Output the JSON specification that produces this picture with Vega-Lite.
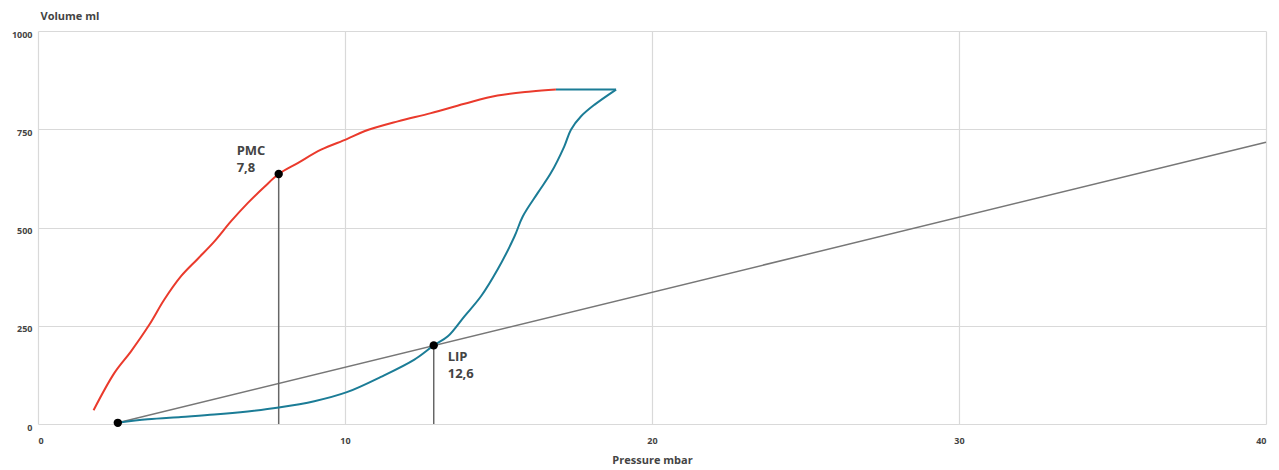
{
  "$schema": "https://vega.github.io/schema/vega-lite/v6.json",
  "autosize": {"type": "none"},
  "width": 1228,
  "height": 393,
  "padding": {"left": 38, "top": 31, "right": 13, "bottom": 46},
  "background": "white",
  "config": {
    "view": {"stroke": null},
    "font": "Open Sans",
    "axis": {
      "grid": true,
      "gridColor": "#d9d9d9",
      "gridWidth": 1.2,
      "domain": false,
      "ticks": false,
      "labelFont": "Open Sans",
      "labelFontWeight": "bold",
      "labelFontSize": 9,
      "labelColor": "#444444",
      "titleFont": "Open Sans",
      "titleFontWeight": "bold",
      "titleFontSize": 11,
      "titleColor": "#444444"
    }
  },
  "datasets": {
    "curves": [
      {"p": 1.81, "v": 35, "series": "insp", "ord": 1},
      {"p": 2.49, "v": 130, "series": "insp", "ord": 2},
      {"p": 3.03, "v": 185, "series": "insp", "ord": 3},
      {"p": 3.63, "v": 253, "series": "insp", "ord": 4},
      {"p": 4.11, "v": 316, "series": "insp", "ord": 5},
      {"p": 4.66, "v": 376, "series": "insp", "ord": 6},
      {"p": 5.2, "v": 420, "series": "insp", "ord": 7},
      {"p": 5.74, "v": 464, "series": "insp", "ord": 8},
      {"p": 6.29, "v": 516, "series": "insp", "ord": 9},
      {"p": 6.83, "v": 562, "series": "insp", "ord": 10},
      {"p": 7.37, "v": 603, "series": "insp", "ord": 11},
      {"p": 7.84, "v": 636, "series": "insp", "ord": 12},
      {"p": 8.46, "v": 664, "series": "insp", "ord": 13},
      {"p": 9.22, "v": 698, "series": "insp", "ord": 14},
      {"p": 10.06, "v": 725, "series": "insp", "ord": 15},
      {"p": 10.63, "v": 745, "series": "insp", "ord": 16},
      {"p": 11.72, "v": 770, "series": "insp", "ord": 17},
      {"p": 12.8, "v": 791, "series": "insp", "ord": 18},
      {"p": 13.89, "v": 815, "series": "insp", "ord": 19},
      {"p": 14.97, "v": 836, "series": "insp", "ord": 20},
      {"p": 16.06, "v": 846, "series": "insp", "ord": 21},
      {"p": 16.87, "v": 851, "series": "insp", "ord": 22},
      {"p": 16.87, "v": 851, "series": "top", "ord": 1},
      {"p": 18.83, "v": 851, "series": "top", "ord": 2},
      {"p": 18.83, "v": 851, "series": "exp", "ord": 1},
      {"p": 18.12, "v": 812, "series": "exp", "ord": 2},
      {"p": 17.69, "v": 783, "series": "exp", "ord": 3},
      {"p": 17.36, "v": 749, "series": "exp", "ord": 4},
      {"p": 17.14, "v": 706, "series": "exp", "ord": 5},
      {"p": 16.71, "v": 639, "series": "exp", "ord": 6},
      {"p": 16.28, "v": 588, "series": "exp", "ord": 7},
      {"p": 15.79, "v": 528, "series": "exp", "ord": 8},
      {"p": 15.52, "v": 477, "series": "exp", "ord": 9},
      {"p": 14.97, "v": 393, "series": "exp", "ord": 10},
      {"p": 14.43, "v": 325, "series": "exp", "ord": 11},
      {"p": 13.89, "v": 274, "series": "exp", "ord": 12},
      {"p": 13.35, "v": 223, "series": "exp", "ord": 13},
      {"p": 12.89, "v": 200, "series": "exp", "ord": 14},
      {"p": 12.26, "v": 164, "series": "exp", "ord": 15},
      {"p": 11.17, "v": 120, "series": "exp", "ord": 16},
      {"p": 10.06, "v": 81, "series": "exp", "ord": 17},
      {"p": 9.0, "v": 58, "series": "exp", "ord": 18},
      {"p": 7.84, "v": 42, "series": "exp", "ord": 19},
      {"p": 6.83, "v": 32, "series": "exp", "ord": 20},
      {"p": 5.74, "v": 24, "series": "exp", "ord": 21},
      {"p": 4.66, "v": 18, "series": "exp", "ord": 22},
      {"p": 3.57, "v": 12, "series": "exp", "ord": 23},
      {"p": 2.6, "v": 3, "series": "exp", "ord": 24}
    ],
    "slope": [
      {"p": 2.6, "v": 3},
      {"p": 40, "v": 717}
    ],
    "marks": [
      {"p": 2.6, "v": 3, "base": 0, "name": "start", "label": ""},
      {"p": 7.84, "v": 636, "base": 0, "name": "PMC", "label": "PMC\n7,8"},
      {"p": 12.89, "v": 200, "base": 0, "name": "LIP", "label": "LIP\n12,6"}
    ]
  },
  "layer": [
    {
      "data": {"name": "slope"},
      "mark": {"type": "line", "color": "#777777", "strokeWidth": 1.5},
      "encoding": {
        "x": {"field": "p", "type": "quantitative", "scale": {"domain": [0, 40], "nice": false}, "axis": {"values": [0, 10, 20, 30, 40], "format": "d", "title": "Pressure mbar", "labelPadding": 12, "titleY": 39, "titleBaseline": "alphabetic"}},
        "y": {"field": "v", "type": "quantitative", "scale": {"domain": [0, 1000], "nice": false}, "axis": {"values": [0, 250, 500, 750, 1000], "format": "d", "title": "Volume ml", "titleAngle": 0, "titleAlign": "left", "titleX": 2, "titleY": -12, "titleBaseline": "alphabetic", "labelPadding": 6, "labelOffset": 3}}
      }
    },
    {
      "data": {"name": "marks"},
      "transform": [{"filter": "datum.name !== 'start'"}],
      "mark": {"type": "rule", "color": "#666666", "strokeWidth": 1.5},
      "encoding": {
        "x": {"field": "p", "type": "quantitative"},
        "y": {"field": "v", "type": "quantitative"},
        "y2": {"field": "base"}
      }
    },
    {
      "data": {"name": "curves"},
      "transform": [{"filter": "datum.series === 'top'"}],
      "mark": {"type": "line", "strokeWidth": 2},
      "encoding": {
        "x": {"field": "p", "type": "quantitative"},
        "y": {"field": "v", "type": "quantitative"},
        "color": {"field": "series", "type": "nominal", "scale": {"domain": ["insp", "top", "exp"], "range": ["#ea3a2c", "#1b7c96", "#1b7c96"]}, "legend": null},
        "order": {"field": "ord", "type": "quantitative"}
      }
    },
    {
      "data": {"name": "curves"},
      "transform": [{"filter": "datum.series !== 'top'"}],
      "mark": {"type": "line", "strokeWidth": 2, "interpolate": "catmull-rom"},
      "encoding": {
        "x": {"field": "p", "type": "quantitative"},
        "y": {"field": "v", "type": "quantitative"},
        "color": {"field": "series", "type": "nominal", "legend": null},
        "order": {"field": "ord", "type": "quantitative"}
      }
    },
    {
      "data": {"name": "marks"},
      "mark": {"type": "point", "filled": true, "color": "#000000", "size": 70, "opacity": 1},
      "encoding": {
        "x": {"field": "p", "type": "quantitative"},
        "y": {"field": "v", "type": "quantitative"}
      }
    },
    {
      "data": {"name": "marks"},
      "transform": [{"filter": "datum.name === 'PMC'"}],
      "mark": {"type": "text", "align": "left", "baseline": "alphabetic", "dx": -42, "dy": -19, "font": "Open Sans", "fontWeight": "bold", "fontSize": 13, "color": "#444444", "lineBreak": "\n", "lineHeight": 17},
      "encoding": {
        "x": {"field": "p", "type": "quantitative"},
        "y": {"field": "v", "type": "quantitative"},
        "text": {"field": "label", "type": "nominal"}
      }
    },
    {
      "data": {"name": "marks"},
      "transform": [{"filter": "datum.name === 'LIP'"}],
      "mark": {"type": "text", "align": "left", "baseline": "alphabetic", "dx": 14, "dy": 16, "font": "Open Sans", "fontWeight": "bold", "fontSize": 13, "color": "#444444", "lineBreak": "\n", "lineHeight": 17},
      "encoding": {
        "x": {"field": "p", "type": "quantitative"},
        "y": {"field": "v", "type": "quantitative"},
        "text": {"field": "label", "type": "nominal"}
      }
    }
  ]
}
